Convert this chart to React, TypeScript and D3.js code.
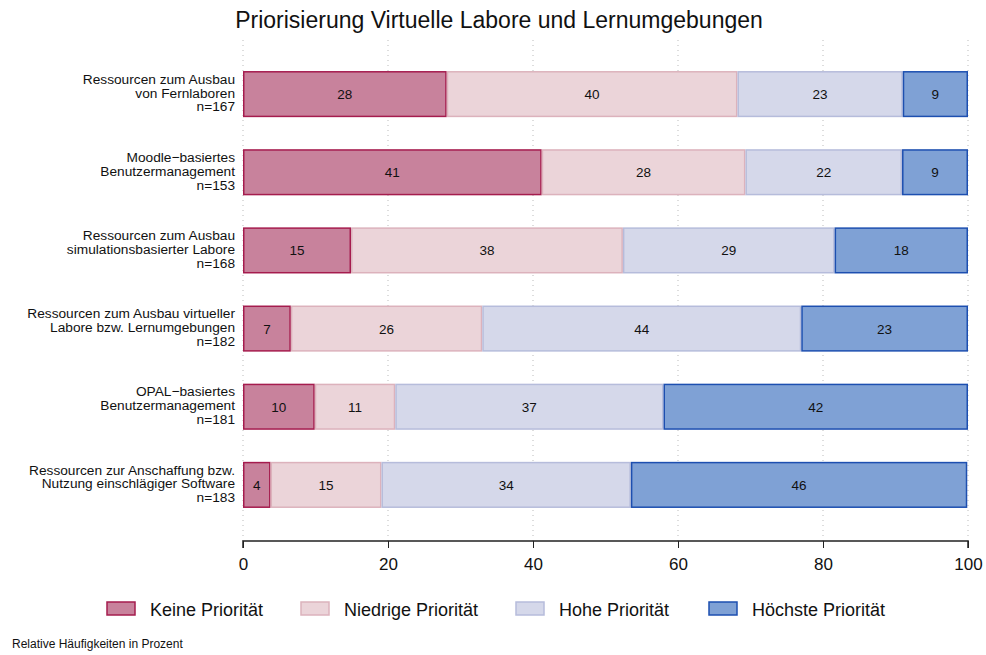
import React, { useEffect, useRef } from 'react';
import * as d3 from 'd3';

// Kategorien (oben nach unten), mehrzeilige Beschriftung
const categories = [
  ['Ressourcen zum Ausbau', 'von Fernlaboren', 'n=167'],
  ['Moodle\u2212basiertes', 'Benutzermanagement', 'n=153'],
  ['Ressourcen zum Ausbau', 'simulationsbasierter Labore', 'n=168'],
  ['Ressourcen zum Ausbau virtueller', 'Labore bzw. Lernumgebungen', 'n=182'],
  ['OPAL\u2212basiertes', 'Benutzermanagement', 'n=181'],
  ['Ressourcen zur Anschaffung bzw.', 'Nutzung einschl\u00e4giger Software', 'n=183'],
];

// relative Häufigkeiten in Prozent je Kategorie
const keine = [28.1, 41.2, 14.9, 6.6, 9.9, 3.8];
const niedrige = [40.1, 28.1, 37.5, 26.4, 11.1, 15.3];
const hohe = [22.8, 21.6, 29.2, 44.0, 37.0, 34.4];
const hoechste = [9.0, 9.1, 18.4, 23.0, 42.0, 46.4];

const seriesNames = ['Keine Priorit\u00e4t', 'Niedrige Priorit\u00e4t', 'Hohe Priorit\u00e4t', 'H\u00f6chste Priorit\u00e4t'];
const fills = ['#c8829c', '#ebd4d9', '#d5d8ea', '#7fa1d5'];
const strokes = ['#a51c4e', '#dcb2bc', '#b6bcdb', '#1d4fb0'];
const xTicks = [0, 20, 40, 60, 80, 100];

const W = 986;
const H = 655;
const FONT = '"Liberation Sans", Arial, Helvetica, sans-serif';

export default function App() {
  const svgRef = useRef<SVGSVGElement>(null);

  useEffect(() => {
    const svg = d3.select(svgRef.current);
    svg.selectAll('*').remove();

    const left = 243, right = 968, top = 40, bottom = 541;
    const x = d3.scaleLinear().domain([0, 100]).range([left, right]);
    const y = d3.scaleBand<number>()
      .domain(d3.range(categories.length))
      .range([47.6, 531.4])
      .paddingInner(0.41)
      .paddingOuter(0.3);

    // Titel
    svg.append('text')
      .attr('x', 499).attr('y', 28)
      .attr('text-anchor', 'middle')
      .style('font-size', '23px')
      .text('Priorisierung Virtuelle Labore und Lernumgebungen');

    // Gitterlinien
    svg.append('g').selectAll('line').data(xTicks).enter().append('line')
      .attr('x1', (d) => x(d)).attr('x2', (d) => x(d))
      .attr('y1', top).attr('y2', bottom)
      .attr('stroke', '#bbbbbb').attr('stroke-width', 1)
      .attr('stroke-dasharray', '1,4');

    const rows = categories.map((c, i) => [keine[i], niedrige[i], hohe[i], hoechste[i]]);

    rows.forEach((vals, i) => {
      let acc = 0;
      const cy = y(i)! + y.bandwidth() / 2;
      const g = svg.append('g');
      vals.forEach((v, s) => {
        const x0 = x(acc), x1 = x(acc + v);
        acc += v;
        g.append('rect')
          .attr('x', x0 + 0.75).attr('y', y(i)! + 0.75)
          .attr('width', Math.max(0, x1 - x0 - 1.5)).attr('height', y.bandwidth() - 1.5)
          .attr('fill', fills[s]).attr('stroke', strokes[s]).attr('stroke-width', 1.5);
        g.append('text')
          .attr('x', (x0 + x1) / 2).attr('y', cy + 5)
          .attr('text-anchor', 'middle')
          .style('font-size', '13.5px')
          .text(Math.round(v));
      });

      // Kategorie-Beschriftung
      const t = svg.append('text')
        .attr('text-anchor', 'end')
        .style('font-size', '13.7px');
      categories[i].forEach((line, k) => {
        t.append('tspan')
          .attr('x', 235)
          .attr('y', cy + (k - 1) * 13.8 + 3.5)
          .text(line);
      });
    });

    // x-Achse
    const axis = svg.append('g').attr('transform', `translate(0,${bottom})`)
      .call(d3.axisBottom(x).tickValues(xTicks).tickSize(7).tickPadding(10).tickFormat(d3.format('d')));
    axis.select('.domain').attr('stroke', '#222').attr('stroke-width', 1.5)
      .attr('d', `M${left},7V0H${right}V7`);
    axis.selectAll('.tick line').attr('stroke', '#222');
    axis.selectAll('.tick text').style('font-size', '17px').style('font-family', FONT).attr('fill', '#111');

    // Legende
    const legendX = [107, 301, 516, 709];
    const lg = svg.append('g').attr('transform', 'translate(0,602)');
    seriesNames.forEach((name, s) => {
      lg.append('rect')
        .attr('x', legendX[s]).attr('y', 0).attr('width', 28).attr('height', 13)
        .attr('fill', fills[s]).attr('stroke', strokes[s]).attr('stroke-width', 1.5);
      lg.append('text')
        .attr('x', legendX[s] + 43).attr('y', 13.5)
        .style('font-size', '18px').text(name);
    });

    // Fußnote
    svg.append('text')
      .attr('x', 12).attr('y', 648)
      .style('font-size', '12px')
      .text('Relative H\u00e4ufigkeiten in Prozent');
  }, []);

  return (
    <svg
      ref={svgRef}
      width={W}
      height={H}
      style={{ position: 'absolute', left: 0, top: 0, background: '#fff', fontFamily: FONT, fill: '#111' }}
    />
  );
}
